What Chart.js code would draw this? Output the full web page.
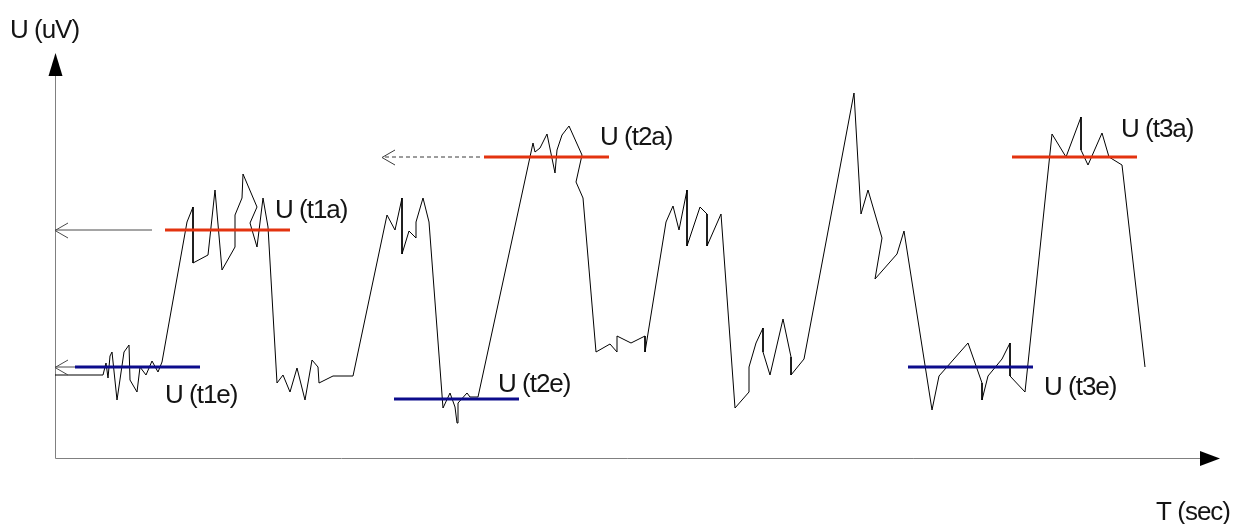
<!DOCTYPE html>
<html>
<head>
<meta charset="utf-8">
<script src="https://cdn.jsdelivr.net/npm/chart.js@4.4.1/dist/chart.umd.min.js"></script>
<style>
  html, body { margin: 0; padding: 0; background: #ffffff; overflow: hidden; }
  canvas { display: block; }
</style>
</head>
<body>
<canvas id="c" width="1233" height="524"></canvas>
<script>
// Measured signal: time (sec) and voltage (uV)
const signalT = [0, 4.8, 5.1, 5.3, 5.5, 5.7, 6.2, 6.9, 7.4, 7.5, 8.2, 8.5, 9.1, 9.7, 10.3, 10.7,
  13.2, 13.8, 13.8, 15.3, 16.0, 16.7, 18.0, 18.0, 18.7, 18.8, 20.2, 19.5, 20.2, 20.8, 21.3,
  22.2, 22.8, 23.5, 24.2, 25.0, 25.7, 26.3, 26.4, 27.8, 29.8,
  33.2, 34.0, 34.7, 34.7, 35.4, 36.1, 36.1, 36.8, 37.4,
  38.8, 39.5, 40.0, 40.2, 40.3, 41.2, 41.5, 42.3,
  47.8, 48.0, 48.5, 49.2, 50.0, 50.2, 50.7, 51.4, 52.7, 52.1, 52.8,
  54.1, 55.5, 56.2, 56.2, 57.6, 59.0, 59.0,
  61.1, 61.8, 62.4, 63.2, 63.2, 64.5, 65.2, 65.2, 66.6,
  68.0, 69.4, 69.4, 70.1, 70.8, 70.8, 71.5, 72.8, 73.6, 73.6, 74.9,
  79.9, 80.6, 81.3, 82.7, 82.0, 84.2, 84.9,
  87.7, 88.4, 91.3, 92.7, 92.7, 93.3, 94.7, 95.5, 95.5, 97.0,
  99.7, 101.1, 102.6, 102.6, 103.3, 104.7, 105.4, 106.7, 109.0];
const signalU = [8.3, 8.3, 9.5, 8.0, 10.2, 10.6, 5.8, 10.6, 11.3, 7.8, 6.6, 9.1, 8.3, 9.7, 8.6, 9.6,
  23.6, 25.1, 19.5, 20.3, 26.8, 18.8, 21.1, 24.3, 26.0, 28.4, 25.1, 23.5, 21.1, 26.0, 23.1,
  7.5, 8.3, 6.6, 9.0, 5.8, 9.8, 9.1, 7.5, 8.2, 8.2,
  24.3, 22.8, 26.0, 20.4, 22.7, 22.0, 23.6, 26.0, 23.6,
  5.0, 6.5, 5.1, 3.5, 5.5, 6.5, 6.1, 6.1,
  31.5, 30.6, 31.0, 32.4, 28.5, 30.8, 32.3, 33.2, 30.3, 27.6, 26.0,
  10.6, 11.4, 10.6, 12.2, 11.5, 12.2, 10.6,
  23.6, 25.2, 22.8, 26.8, 21.2, 25.1, 24.4, 21.2, 24.4,
  5.0, 6.6, 9.1, 11.5, 13.0, 10.6, 8.3, 13.9, 10.1, 8.3, 9.9,
  36.5, 24.4, 26.8, 22.0, 17.9, 20.4, 22.7,
  4.8, 8.2, 11.5, 7.5, 5.8, 8.2, 9.9, 11.5, 8.2, 6.6,
  32.4, 30.1, 34.1, 30.8, 29.3, 32.5, 30.1, 29.3, 9.1];

// Level markers U(t..) : name, level, time span, kind (e = rest, a = active)
const levelNames = ['U (t1e)', 'U (t1a)', 'U (t2e)', 'U (t2a)', 'U (t3e)', 'U (t3a)'];
const levelU     = [9.1, 22.8, 5.9, 30.1, 9.1, 30.1];
const levelStart = [2.0, 11.0, 33.9, 42.9, 85.3, 95.7];
const levelEnd   = [14.5, 23.5, 46.4, 55.4, 97.8, 108.2];
const levelKind  = ['e', 'a', 'e', 'a', 'e', 'a'];

// Reference arrows pointing back to the U axis
const refFrom   = [2.0, 9.7, 42.5];
const refTo     = [0, 0, 32.7];
const refU      = [9.1, 22.8, 30.1];
const refDashed = [false, false, true];

const axisTitles = ['U (uV)', 'T (sec)'];
const tMax = 116.5;
const uMax = 40.5;

// Styling
const RED = '#e3330f';
const BLUE = '#0c0c8c';
const TEXT = '#141414';
const FONT = '26px "Liberation Sans", Arial, sans-serif';
// label placement relative to the right end of each level marker (px)
const labelOffset = [[-35, 36], [-15, -12], [-21, -7], [-9, -12], [11, 28], [-16, -20]];

const signalData = signalT.map((t, i) => ({ x: t, y: signalU[i] }));

const datasets = [];
levelNames.forEach((name, i) => {
  datasets.push({
    label: name,
    data: [{ x: levelStart[i], y: levelU[i] }, { x: levelEnd[i], y: levelU[i] }],
    showLine: true,
    borderColor: levelKind[i] === 'a' ? RED : BLUE,
    borderWidth: 3,
    pointRadius: 0,
    order: 1
  });
});
refFrom.forEach((t, i) => {
  datasets.push({
    label: 'ref' + i,
    data: [{ x: t, y: refU[i] }, { x: refTo[i], y: refU[i] }],
    showLine: true,
    borderColor: refDashed[i] ? '#3a3a3a' : '#4a4a4a',
    borderWidth: 1,
    borderDash: refDashed[i] ? [4, 3] : [],
    pointRadius: 0,
    order: 3
  });
});
datasets.push({
  label: 'U',
  data: signalData,
  showLine: true,
  borderColor: '#000000',
  borderWidth: 1,
  pointRadius: 0,
  tension: 0,
  order: 2
});

const axesPlugin = {
  id: 'axesPlugin',
  beforeDatasetsDraw(chart) {
    const ctx = chart.ctx;
    const xs = chart.scales.x, ys = chart.scales.y;
    const x0 = Math.round(xs.getPixelForValue(0)) + 0.5;
    const y0 = Math.round(ys.getPixelForValue(0)) + 0.5;
    const xEnd = xs.getPixelForValue(tMax);
    const yTop = ys.getPixelForValue(uMax);
    ctx.save();
    ctx.strokeStyle = '#808080';
    ctx.lineWidth = 1;
    ctx.beginPath();
    ctx.moveTo(x0, y0);
    ctx.lineTo(xEnd - 20, y0);
    ctx.moveTo(x0, y0);
    ctx.lineTo(x0, yTop + 22);
    ctx.stroke();
    ctx.fillStyle = '#000000';
    // x arrowhead
    ctx.beginPath();
    ctx.moveTo(xEnd, y0);
    ctx.lineTo(xEnd - 20, y0 - 7.5);
    ctx.lineTo(xEnd - 20, y0 + 7.5);
    ctx.closePath();
    ctx.fill();
    // y arrowhead
    ctx.beginPath();
    ctx.moveTo(x0, yTop);
    ctx.lineTo(x0 - 7, yTop + 23);
    ctx.lineTo(x0 + 7, yTop + 23);
    ctx.closePath();
    ctx.fill();
    ctx.restore();
  },
  afterDatasetsDraw(chart) {
    const ctx = chart.ctx;
    const xs = chart.scales.x, ys = chart.scales.y;
    ctx.save();
    // open arrowheads of the reference arrows
    refTo.forEach((t, i) => {
      const px = xs.getPixelForValue(t);
      const py = Math.round(ys.getPixelForValue(refU[i])) + 0.5;
      ctx.strokeStyle = refDashed[i] ? '#3a3a3a' : '#4a4a4a';
      ctx.lineWidth = 1;
      ctx.beginPath();
      ctx.moveTo(px + 13, py - 7.5);
      ctx.lineTo(px, py);
      ctx.lineTo(px + 13, py + 7.5);
      ctx.stroke();
    });
    // text
    ctx.font = FONT;
    ctx.fillStyle = TEXT;
    ctx.textBaseline = 'alphabetic';
    if ('letterSpacing' in ctx) ctx.letterSpacing = '-1px';
    levelNames.forEach((name, i) => {
      const px = xs.getPixelForValue(levelEnd[i]) + labelOffset[i][0];
      const py = ys.getPixelForValue(levelU[i]) + labelOffset[i][1];
      ctx.textAlign = 'left';
      ctx.fillText(name, px, py);
    });
    const x0 = xs.getPixelForValue(0);
    const yTop = ys.getPixelForValue(uMax);
    ctx.textAlign = 'left';
    ctx.fillText(axisTitles[0], x0 - 45, yTop - 15);
    ctx.textAlign = 'right';
    ctx.fillText(axisTitles[1], xs.getPixelForValue(tMax) + 10, ys.getPixelForValue(0) + 62);
    ctx.restore();
  }
};

new Chart(document.getElementById('c'), {
  type: 'scatter',
  data: { datasets },
  options: {
    responsive: false,
    animation: false,
    events: [],
    layout: { padding: { left: 55, right: 13, top: 53, bottom: 66 } },
    plugins: { legend: { display: false }, tooltip: { enabled: false } },
    elements: { line: { tension: 0 } },
    scales: {
      x: { type: 'linear', min: 0, max: tMax, display: false },
      y: { type: 'linear', min: 0, max: uMax, display: false }
    }
  },
  plugins: [axesPlugin]
});
</script>
</body>
</html>
